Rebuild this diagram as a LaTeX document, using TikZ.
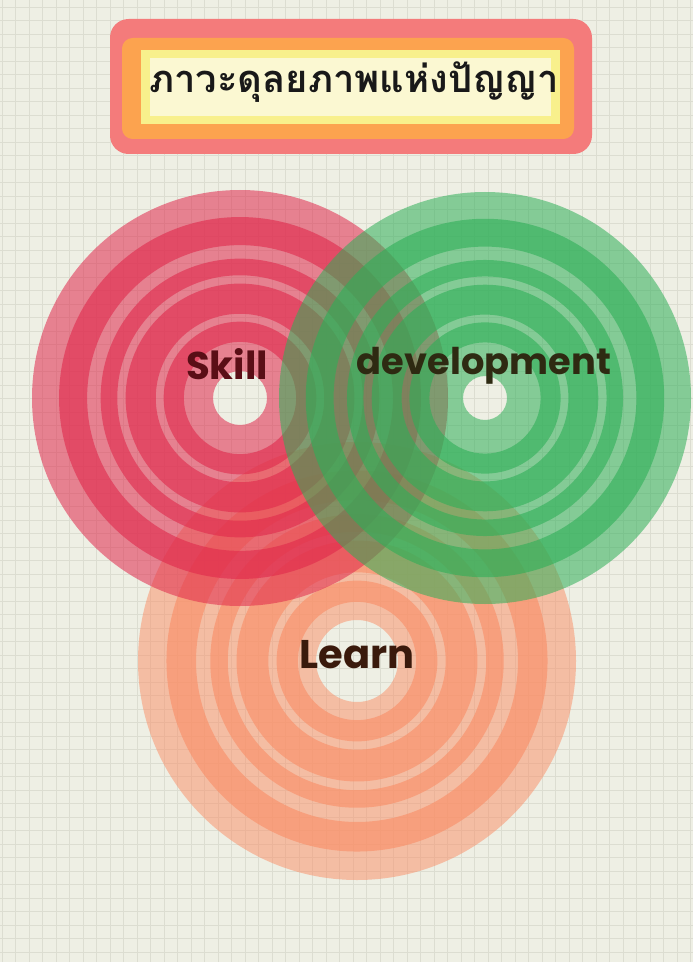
\documentclass[tikz,border=0pt]{standalone}
\usepackage{fontspec}
\newfontfamily\thaifont[Script=Thai]{Loma}
\newfontfamily\handfont{Poppins}
\definecolor{paper}{HTML}{EEEFE4}
\definecolor{gridgray}{HTML}{DCDDD1}
\definecolor{boxred}{HTML}{F47B7B}
\definecolor{boxorange}{HTML}{FCA34F}
\definecolor{boxyellow}{HTML}{F8F08C}
\definecolor{boxpale}{HTML}{FBF8D2}
\definecolor{skillred}{HTML}{E0284B}
\definecolor{devgreen}{HTML}{2EAF57}
\definecolor{learnorange}{HTML}{FA8C64}
\definecolor{skillink}{HTML}{5A0E16}
\definecolor{devink}{HTML}{2E2A12}
\definecolor{learnink}{HTML}{3A1A0C}
\begin{document}
\begin{tikzpicture}[x=0.75pt,y=-0.75pt,
	gridline/.style={draw=gridgray, line width=0.6pt},
	word/.style={font=\handfont\bfseries\fontsize{29}{32}\selectfont, inner sep=0pt}]
	\useasboundingbox (0,0) rectangle (693,962);
	\fill[paper] (0,0) rectangle (693,962);
	% squared paper
	\foreach \gx in {2,15.5,...,693} \draw[gridline] (\gx,0) -- (\gx,962);
	\foreach \gy in {7,20.5,...,962} \draw[gridline] (0,\gy) -- (693,\gy);
	% title plate
	\fill[boxred, rounded corners=14] (110,19) rectangle (592,154);
	\fill[boxorange, rounded corners=8] (122,38) rectangle (574,139);
	\fill[boxyellow] (141,50) rectangle (560,124);
	\fill[boxpale] (150,58) rectangle (551,116);
	\node[font=\thaifont\bfseries\fontsize{28.6}{32}\selectfont, text=black!90, inner sep=0pt] (title) at (354,82) {ภาวะดุลยภาพแห่งปัญญา};
	% target circles
	\foreach \cx/\cy/\R/\h/\col/\op in {357/661/219/41/learnorange/.5, 240/398/208/27/skillred/.55, 485/398/206/22/devgreen/.55} {
		\fill[\col, opacity=\op, even odd rule] (\cx,\cy) circle (\R) circle (\h);
		\foreach \a/\b in {.87/.735, .67/.59, .55/.405, .367/.27}
			\fill[\col, opacity=.6, even odd rule] (\cx,\cy) circle ({\a*\R}) circle ({\b*\R});
	}
	\node[word, text=skillink] (skill) at (227,364) {Skill};
	\node[word, text=devink, font=\handfont\bfseries\fontsize{27.6}{30}\selectfont] (dev) at (484,366) {development};
	\node[word, text=learnink, font=\handfont\bfseries\fontsize{30}{33}\selectfont] (learn) at (357,655) {Learn};
\end{tikzpicture}
\end{document}
